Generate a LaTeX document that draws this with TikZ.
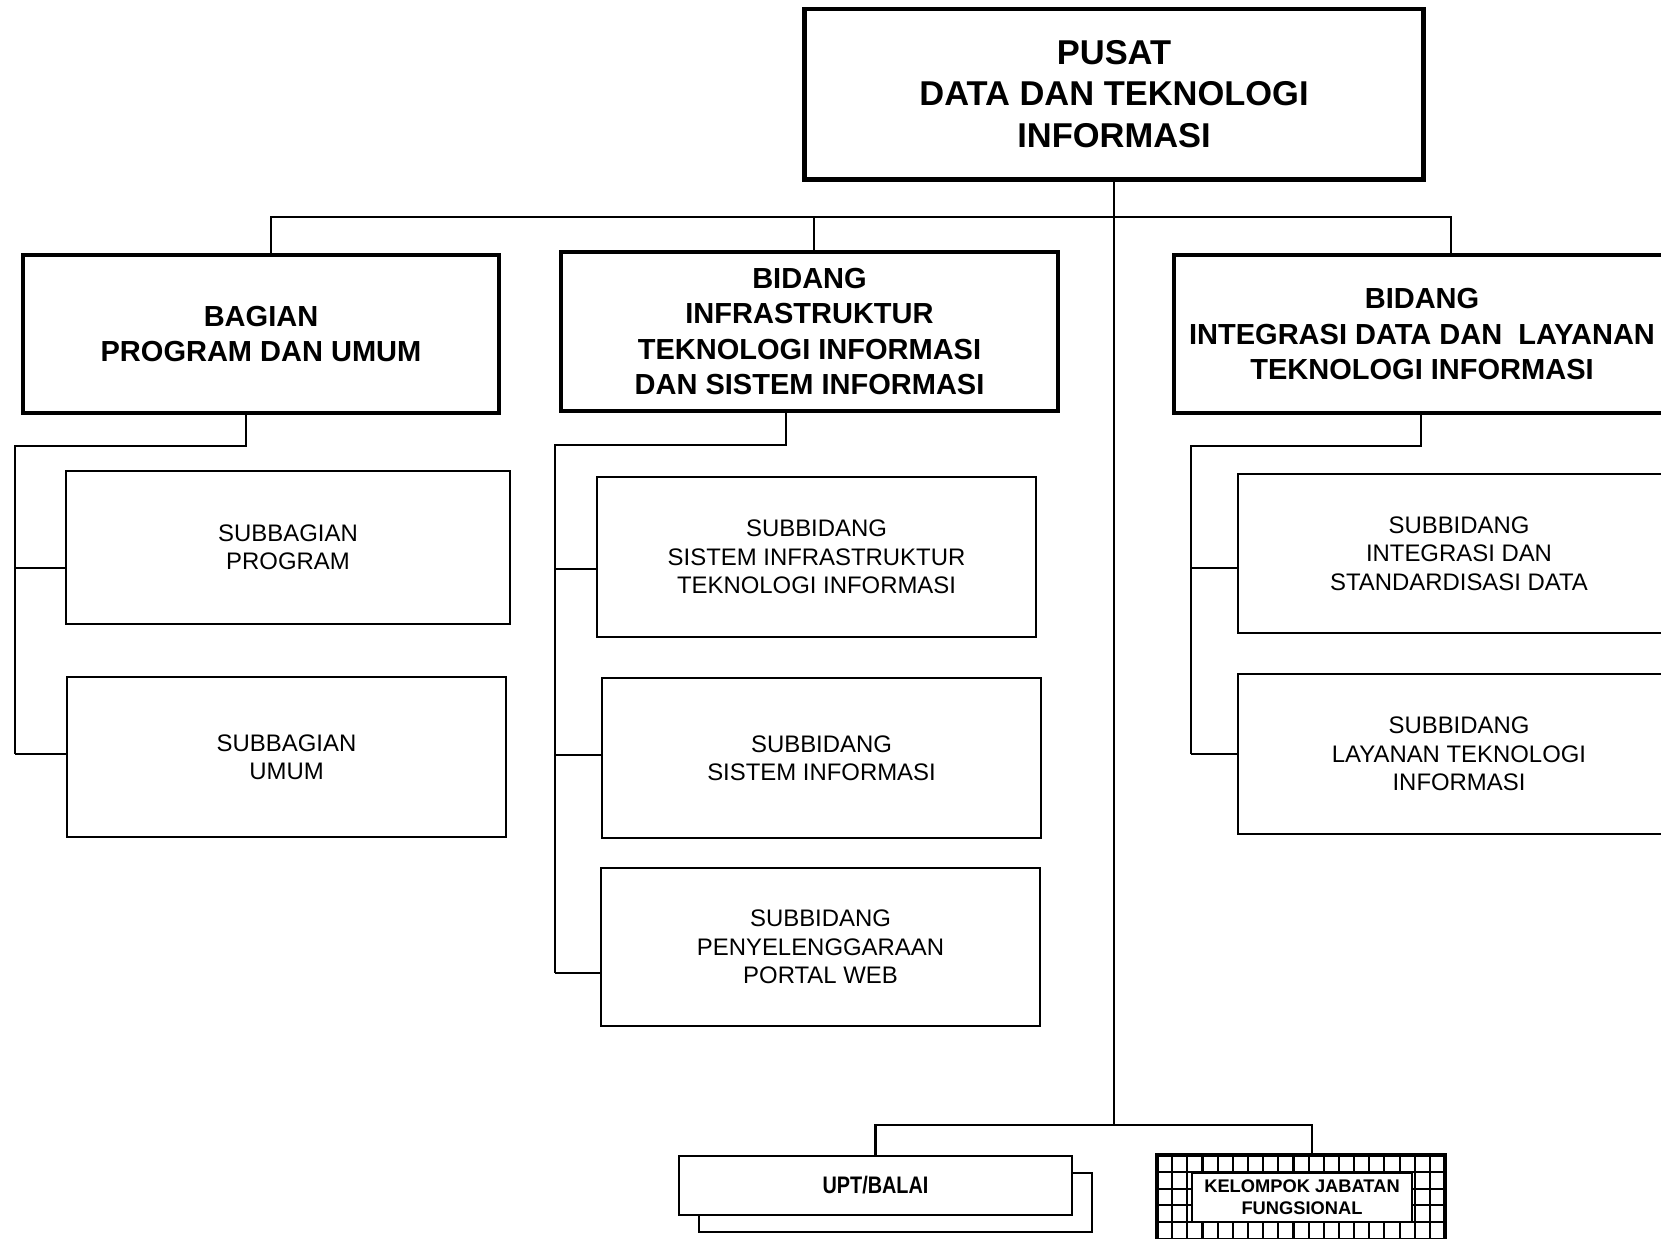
\documentclass[tikz,border=0pt]{standalone}
\usepackage{fontspec}
\setmainfont{Liberation Sans}
\newfontfamily\uptfont[FakeStretch=0.83]{Liberation Sans}
\usetikzlibrary{positioning}

\tikzset{
  conn/.style={line width=0.65pt},
  headbox/.style={draw, line width=1.4pt, align=center, inner sep=0pt,
    font=\bfseries\fontsize{9.8}{11.8}\selectfont},
  unitbox/.style={draw, line width=1.15pt, align=center, inner sep=0pt,
    minimum width=4.96cm, minimum height=1.58cm,
    font=\bfseries\fontsize{8.25}{10}\selectfont},
  subbox/.style={draw, line width=0.75pt, align=center, inner sep=0pt,
    minimum width=4.39cm, minimum height=1.59cm,
    font=\fontsize{6.8}{8.1}\selectfont},
  gridline/.style={line width=0.6pt},
}

\begin{document}
\begin{tikzpicture}[x=0.01cm, y=-0.01cm]
\useasboundingbox (0,0) rectangle (1661,1238);
\clip (0,0) rectangle (1661,1238);

\node[headbox, minimum width=6.18cm, minimum height=1.70cm] (pusat) at (1114,94)
  {PUSAT\\DATA DAN TEKNOLOGI\\INFORMASI};

\node[unitbox, minimum width=4.76cm] (bagian) at (261,334)
  {BAGIAN\\PROGRAM DAN UMUM};
\node[unitbox, minimum height=1.59cm] (infra) at (809.5,331.5)
  {BIDANG\\INFRASTRUKTUR\\TEKNOLOGI INFORMASI\\DAN SISTEM INFORMASI};
\node[unitbox] (integrasi) at (1422,334)
  {BIDANG\\INTEGRASI DATA DAN\ \ LAYANAN\\TEKNOLOGI INFORMASI};

\node[subbox, minimum width=4.44cm, minimum height=1.53cm] (subprog) at (288,547.5)
  {SUBBAGIAN\\PROGRAM};
\node[subbox, minimum height=1.60cm] (subumum) at (286.5,757)
  {SUBBAGIAN\\UMUM};

\node[subbox, minimum height=1.60cm] (subinfra) at (816.5,557)
  {SUBBIDANG\\SISTEM INFRASTRUKTUR\\TEKNOLOGI INFORMASI};
\node[subbox, minimum height=1.60cm] (subsi) at (821.5,758)
  {SUBBIDANG\\SISTEM INFORMASI};
\node[subbox, minimum height=1.58cm] (subportal) at (820.5,947)
  {SUBBIDANG\\PENYELENGGARAAN\\PORTAL WEB};

\node[subbox, minimum width=4.42cm] (subdata) at (1459,553.5)
  {SUBBIDANG\\INTEGRASI DAN\\STANDARDISASI DATA};
\node[subbox, minimum width=4.42cm, minimum height=1.60cm] (sublayanan) at (1459,754)
  {SUBBIDANG\\LAYANAN TEKNOLOGI\\INFORMASI};

% main trunk and top bus
\coordinate (foot) at (1114,1125);
\coordinate (busL) at (271,217);
\coordinate (busM) at (814,217);
\coordinate (busR) at (1451,217);
\draw[conn] (pusat.south) -- (foot);
\draw[conn] (busL |- bagian.north) -- (busL) -- (busR) -- (busR |- integrasi.north);
\draw[conn] (busM) -- (busM |- infra.north);

% brackets under the units
\coordinate (a0) at (246,446);
\coordinate (a1) at (15,446);
\coordinate (a2) at (15,754);
\coordinate (a3) at (15,568);
\draw[conn] (a0 |- bagian.south) -- (a0) -- (a1) -- (a2);
\draw[conn] (a3) -- (subprog.west |- a3);
\draw[conn] (a2) -- (subumum.west |- a2);

\coordinate (b0) at (786,445);
\coordinate (b1) at (555,445);
\coordinate (b2) at (555,973);
\coordinate (b3) at (555,569);
\coordinate (b4) at (555,755);
\draw[conn] (b0 |- infra.south) -- (b0) -- (b1) -- (b2);
\draw[conn] (b3) -- (subinfra.west |- b3);
\draw[conn] (b4) -- (subsi.west |- b4);
\draw[conn] (b2) -- (subportal.west |- b2);

\coordinate (c0) at (1421,446);
\coordinate (c1) at (1191,446);
\coordinate (c2) at (1191,754);
\coordinate (c3) at (1191,568);
\draw[conn] (c0 |- integrasi.south) -- (c0) -- (c1) -- (c2);
\draw[conn] (c3) -- (subdata.west |- c3);
\draw[conn] (c2) -- (sublayanan.west |- c2);

% UPT with its shadow box
\node[draw, fill=white, line width=0.75pt, minimum width=3.93cm, minimum height=0.59cm]
  (uptback) at (895.5,1202.5) {};
\node[draw, fill=white, line width=0.75pt, minimum width=3.93cm, minimum height=0.59cm,
  inner sep=0pt, font=\uptfont\bfseries\fontsize{6.8}{8}\selectfont]
  (upt) at (875.5,1185.5) {UPT/BALAI};

% functional group with hatched frame
\node[draw, line width=0.95pt, minimum width=2.88cm, minimum height=1.05cm]
  (kelompok) at (1301,1207.5) {};
\foreach \i in {1,...,18}
  \draw[gridline] ({1157+\i*15.16},1155) -- ({1157+\i*15.16},1260);
\foreach \j in {1,...,5}
  \draw[gridline] (1157,{1155+\j*16.8}) -- (1445,{1155+\j*16.8});
\node[draw, fill=white, line width=0.8pt, minimum width=2.20cm, minimum height=0.49cm,
  inner sep=0pt, align=center, font=\bfseries\fontsize{5.2}{6.3}\selectfont]
  (jabatan) at (1302,1197.5) {KELOMPOK JABATAN\\FUNGSIONAL};

\coordinate (lowL) at (upt.north |- foot);
\coordinate (lowR) at (1312,1125);
\draw[conn] (upt.north) -- (lowL) -- (lowR) -- (lowR |- kelompok.north);
\end{tikzpicture}
\end{document}
